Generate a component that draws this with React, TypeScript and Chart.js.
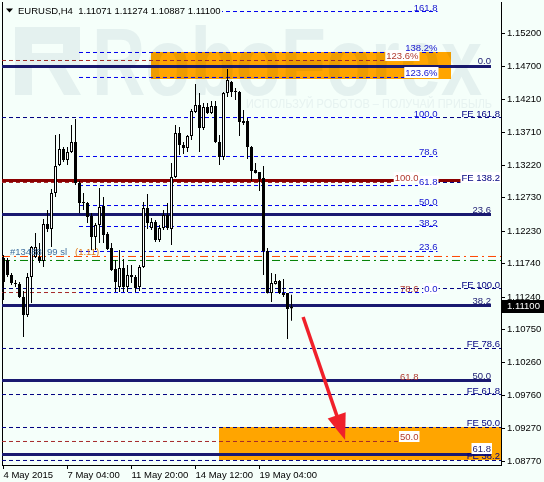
import React, { useEffect, useRef } from "react";
import { Chart, registerables } from "chart.js";

Chart.register(...registerables);

const FONT = '"Liberation Sans", Arial, Helvetica, sans-serif';
const BG = "#F5FFFA";

// ---------- axis data ----------
const chartTitle = "EURUSD,H4  1.11071 1.11274 1.10887 1.11100";
const xTickIndex = [0, 16, 32, 48, 64];
const xTickLabels = ["4 May 2015", "7 May 04:00", "11 May 20:00", "14 May 12:00", "19 May 04:00"];
const yTickValues = [1.152, 1.147, 1.1421, 1.1371, 1.1322, 1.1273, 1.1223, 1.1174, 1.1124, 1.1075, 1.1026, 1.0976, 1.0927, 1.0877];

const X_MIN = -0.375;
const X_MAX = 124.375;
const Y_MIN = 1.0872;
const Y_MAX = 1.1567;

// ---------- candles (H4) ----------
const opens = [
  1.11827, 1.11797, 1.11572, 1.11452, 1.11437, 1.11242, 1.10972, 1.11542, 1.11842, 1.11842,
  1.11782, 1.12338, 1.12263, 1.12803, 1.13223, 1.13464, 1.13298, 1.13419, 1.13569, 1.12953,
  1.12668, 1.12653, 1.12458, 1.12143, 1.12323, 1.12608, 1.12188, 1.11978, 1.11662, 1.11392,
  1.11677, 1.11392, 1.11572, 1.11542, 1.11392, 1.11692, 1.12578, 1.12278, 1.12368, 1.12098,
  1.12278, 1.12473, 1.12263, 1.13043, 1.13704, 1.13524, 1.13479, 1.13659, 1.14019, 1.14124,
  1.13779, 1.14094, 1.14004, 1.14109, 1.13569, 1.13343, 1.14304, 1.14469, 1.14334, 1.14319,
  1.13884, 1.13884, 1.13494, 1.13148, 1.13118, 1.13028, 1.11933, 1.11302, 1.11437, 1.11482,
  1.11302, 1.11302, 1.11071,
];
const highs = [
  1.11872, 1.11827, 1.11602, 1.11497, 1.11467, 1.11332, 1.11602, 1.12008, 1.12203, 1.12053,
  1.12413, 1.12548, 1.12863, 1.13674, 1.13689, 1.13494, 1.13494, 1.13824, 1.13914, 1.12983,
  1.12803, 1.12668, 1.12503, 1.12353, 1.12878, 1.12743, 1.12218, 1.12053, 1.11797, 1.11948,
  1.11812, 1.11722, 1.11722, 1.11572, 1.11722, 1.12668, 1.12788, 1.12428, 1.12398, 1.12323,
  1.12548, 1.12653, 1.13253, 1.13824, 1.13794, 1.13569, 1.13674, 1.14064, 1.14439, 1.14304,
  1.14154, 1.14154, 1.14184, 1.14184, 1.13674, 1.14319, 1.14664, 1.14484, 1.14379, 1.14334,
  1.14049, 1.13929, 1.13509, 1.13253, 1.13118, 1.13208, 1.11978, 1.11602, 1.11587, 1.11497,
  1.11512, 1.11302, 1.11274,
];
const lows = [
  1.11197, 1.11542, 1.11422, 1.11392, 1.11227, 1.10642, 1.10942, 1.11152, 1.11827, 1.11752,
  1.11692, 1.12218, 1.11993, 1.12743, 1.13208, 1.13268, 1.13223, 1.13404, 1.12923, 1.12503,
  1.12548, 1.12353, 1.11948, 1.11948, 1.12053, 1.12053, 1.11948, 1.11632, 1.11317, 1.11317,
  1.11317, 1.11317, 1.11452, 1.11317, 1.11332, 1.11677, 1.12263, 1.12248, 1.12068, 1.12068,
  1.12248, 1.12248, 1.12023, 1.13028, 1.13373, 1.13389, 1.13419, 1.13599, 1.14004, 1.13419,
  1.13749, 1.13989, 1.13989, 1.13554, 1.13223, 1.13298, 1.14244, 1.14244, 1.14199, 1.13659,
  1.13824, 1.13313, 1.12983, 1.13095, 1.12833, 1.11572, 1.11295, 1.11167, 1.1143, 1.11287,
  1.11242, 1.10612, 1.10887,
];
const closes = [
  1.11467, 1.11572, 1.11452, 1.11437, 1.11242, 1.10972, 1.11542, 1.11993, 1.11993, 1.11782,
  1.12338, 1.12263, 1.12803, 1.13208, 1.13464, 1.13298, 1.13419, 1.13569, 1.12953, 1.12653,
  1.12653, 1.12443, 1.12143, 1.12323, 1.12593, 1.12173, 1.11963, 1.11647, 1.11467, 1.11677,
  1.11392, 1.11572, 1.11542, 1.11377, 1.11692, 1.12578, 1.12353, 1.12368, 1.12098, 1.12278,
  1.12473, 1.12278, 1.13043, 1.13704, 1.13524, 1.13479, 1.13659, 1.14034, 1.14124, 1.13779,
  1.14094, 1.14004, 1.14109, 1.13569, 1.13343, 1.14304, 1.14499, 1.14319, 1.14319, 1.13869,
  1.13854, 1.13494, 1.13133, 1.13103, 1.13013, 1.11933, 1.11302, 1.11452, 1.11482, 1.11302,
  1.11272, 1.11062, 1.111,
];

// ---------- analysis objects ----------
const navyFibNames = ["0.0", "23.6", "38.2", "50.0", "61.8"];
const navyFibLevels = [1.14702, 1.1248, 1.11114, 1.09988, 1.08878];
const navyFibSpan = [X_MIN, 121.875];

const blueFibNames = ["161.8", "138.2%", "123.6%", "100.0", "78.6", "61.8", "50.0", "38.2", "23.6", "0.0"];
const blueFibLevels = [1.15527, 1.14912, 1.14537, 1.13936, 1.13351, 1.12915, 1.12615, 1.123, 1.11925, 1.11309];
const blueFibSpan = [18.875, 108.5];

const redFibNames = ["123.6%", "100.0", "78.6", "61.8", "50.0"];
const redFibLevels = [1.14792, 1.12961, 1.11309, 1.09988, 1.09073];
const redFibSpan = [X_MIN, 103.75];

const feNames = ["FE 161.8", "FE 138.2", "FE 100.0", "FE 78.6", "FE 61.8", "FE 50.0", "FE 38.2"];
const feLevels = [1.13936, 1.12961, 1.11369, 1.10469, 1.09778, 1.09283, 1.08788];
const feSpan = [X_MIN, X_MAX];

const resistanceLevel = 1.12991;
const stopLossLevel = 1.1185;
const takeProfitLevel = 1.1179;
const orderText = "#13488  99 sl";
const orderPriceText = "(1.11)";

const upperZone = [1.14919, 1.14514];
const upperZoneSpan = [36.875, 111.875];
const lowerZone = [1.09291, 1.08795];
const lowerZoneSpan = [53.875, X_MAX];

const arrowStart = { x: 74.9, y: 1.10942 };
const arrowEnd = { x: 85.4, y: 1.09096 };

// ---------- helpers ----------
function hLine(price: number, span: number[], color: string, width: number, dash: number[], order: number) {
  return {
    type: "line",
    data: [
      { x: span[0], y: price },
      { x: span[1], y: price },
    ],
    borderColor: color,
    borderWidth: width,
    borderDash: dash,
    borderCapStyle: "butt",
    pointRadius: 0,
    pointHoverRadius: 0,
    fill: false,
    tension: 0,
    order,
  };
}

function zone(levels: number[], span: number[]) {
  return {
    type: "line",
    data: [
      { x: span[0], y: levels[0] },
      { x: span[1], y: levels[0] },
    ],
    borderWidth: 0,
    borderColor: "rgba(0,0,0,0)",
    backgroundColor: "#FFA500",
    pointRadius: 0,
    fill: { value: levels[1] },
    order: 100,
  };
}

function buildDatasets() {
  const ds: any[] = [];
  ds.push(zone(upperZone, upperZoneSpan));
  ds.push(zone(lowerZone, lowerZoneSpan));
  feLevels.forEach((p) => ds.push(hLine(p, feSpan, "#000080", 1, [4, 3], 62)));
  redFibLevels.forEach((p) => ds.push(hLine(p, redFibSpan, "#A52A2A", 1, [4, 3], 61)));
  blueFibLevels.forEach((p) => ds.push(hLine(p, blueFibSpan, "#0000EE", 1, [4, 3], 60)));
  ds.push(hLine(stopLossLevel, [X_MIN, X_MAX], "#FF4500", 1, [8, 4, 2, 4], 55));
  ds.push(hLine(takeProfitLevel, [X_MIN, X_MAX], "#008000", 1, [8, 4, 2, 4], 55));
  ds.push(hLine(resistanceLevel, [X_MIN, X_MAX], "#8B0000", 3, [], 50));
  navyFibLevels.forEach((p) => ds.push(hLine(p, navyFibSpan, "#191970", 3, [], 45)));

  const idx = opens.map((_, i) => i);
  ds.push({
    type: "bar",
    data: idx.map((i) => ({ x: i, y: [lows[i], highs[i]] })),
    backgroundColor: "#000000",
    borderWidth: 0,
    barThickness: 1,
    grouped: false,
    inflateAmount: 0,
    order: 20,
  });
  ds.push({
    type: "bar",
    data: idx.map((i) => ({ x: i, y: [Math.min(opens[i], closes[i]), Math.max(opens[i], closes[i])] })),
    backgroundColor: idx.map((i) => (closes[i] >= opens[i] ? "#FFFFFF" : "#000000")),
    borderColor: "#000000",
    borderWidth: 1,
    borderSkipped: false,
    barThickness: 3,
    grouped: false,
    inflateAmount: 0,
    order: 10,
  });
  return ds;
}

const labelGroups = [
  { names: feNames, levels: feLevels, end: X_MAX, color: "#000080", lw: 1, inset: 1, bg: [false, true, false, false, false, false, false] },
  { names: redFibNames, levels: redFibLevels, end: redFibSpan[1], color: "#B03A2E", lw: 1, inset: 0, bg: [true, true, false, false, true] },
  { names: blueFibNames, levels: blueFibLevels, end: blueFibSpan[1], color: "#1515D0", lw: 1, inset: 0, bg: [false, false, true, false, false, true, false, false, false, true] },
  { names: navyFibNames, levels: navyFibLevels, end: navyFibSpan[1], color: "#191970", lw: 3, inset: 0, bg: [false, false, false, false, true] },
];

function drawWatermark(ctx: CanvasRenderingContext2D) {
  ctx.save();
  ctx.globalCompositeOperation = "multiply";
  ctx.fillStyle = "rgb(238,241,244)";
  // logo block
  ctx.beginPath();
  ctx.rect(15, 27, 17, 68);
  ctx.rect(15, 27, 65, 17);
  ctx.rect(63, 27, 17, 40);
  ctx.rect(32, 53, 48, 14);
  ctx.moveTo(48, 67);
  ctx.lineTo(65, 67);
  ctx.lineTo(81, 95);
  ctx.lineTo(64, 95);
  ctx.closePath();
  ctx.fill();
  // brand text
  ctx.font = `bold 96px ${FONT}`;
  ctx.textBaseline = "alphabetic";
  ctx.textAlign = "left";
  const w = ctx.measureText("RoboForex").width;
  ctx.save();
  ctx.translate(92, 95);
  ctx.scale(390 / w, 1);
  ctx.fillText("RoboForex", 0, 0);
  ctx.restore();
  ctx.fillStyle = "rgb(241,243,246)";
  ctx.font = `12px ${FONT}`;
  const sub = "ИСПОЛЬЗУЙ РОБОТОВ – ПОЛУЧАЙ ПРИБЫЛЬ";
  const sw = ctx.measureText(sub).width;
  ctx.save();
  ctx.translate(246, 108);
  ctx.scale(246 / sw, 1);
  ctx.fillText(sub, 0, 0);
  ctx.restore();
  ctx.restore();
}

const bgPlugin = {
  id: "mt4bg",
  beforeDraw(chart: any) {
    const ctx = chart.ctx;
    ctx.save();
    ctx.fillStyle = BG;
    ctx.fillRect(0, 0, chart.width, chart.height);
    ctx.restore();
  },
};

const overlayPlugin = {
  id: "mt4overlay",
  afterDatasetsDraw(chart: any) {
    const ctx: CanvasRenderingContext2D = chart.ctx;
    const ca = chart.chartArea;
    const xs = chart.scales.x;
    const ys = chart.scales.y;
    const X = (v: number) => xs.getPixelForValue(v);
    const Y = (v: number) => ys.getPixelForValue(v);

    ctx.save();
    ctx.beginPath();
    ctx.rect(ca.left, ca.top, ca.right - ca.left, ca.bottom - ca.top);
    ctx.clip();
    drawWatermark(ctx);

    // level labels
    ctx.font = `9.5px ${FONT}`;
    ctx.textAlign = "right";
    ctx.textBaseline = "alphabetic";
    labelGroups.forEach((g) => {
      const xr = X(g.end) - g.inset;
      g.names.forEach((name, k) => {
        const base = Math.floor(Y(g.levels[k]) - g.lw / 2);
        const w = ctx.measureText(name).width;
        if (g.bg[k]) {
          ctx.fillStyle = "#FFFFFF";
          ctx.fillRect(xr - w - 1, base - 9, w + 2, 11);
        }
        ctx.fillStyle = g.color;
        ctx.fillText(name, xr, base);
      });
    });

    // order labels
    ctx.textAlign = "left";
    ctx.fillStyle = "#3F6E9E";
    ctx.fillText(orderText, 10, Math.floor(Y(stopLossLevel)) - 1);
    ctx.fillStyle = "#E07818";
    ctx.fillText(orderPriceText, 75, Math.floor(Y(stopLossLevel)) - 1);

    // title
    ctx.fillStyle = BG;
    ctx.fillRect(ca.left + 1, 3, 219, 15);
    ctx.fillStyle = "#000000";
    ctx.beginPath();
    ctx.moveTo(6, 8.5);
    ctx.lineTo(13, 8.5);
    ctx.lineTo(9.5, 12.5);
    ctx.closePath();
    ctx.fill();
    ctx.fillText(chartTitle, 18, 14);

    // arrow
    const x1 = X(arrowStart.x), y1 = Y(arrowStart.y);
    const x2 = X(arrowEnd.x), y2 = Y(arrowEnd.y);
    const dx = x2 - x1, dy = y2 - y1;
    const len = Math.hypot(dx, dy);
    const ux = dx / len, uy = dy / len;
    const headLen = 26, headHalf = 9.5;
    const bx = x2 - ux * headLen, by = y2 - uy * headLen;
    ctx.strokeStyle = "#F0202A";
    ctx.fillStyle = "#F0202A";
    ctx.lineWidth = 3.5;
    ctx.lineCap = "butt";
    ctx.beginPath();
    ctx.moveTo(x1, y1);
    ctx.lineTo(bx + ux * 3, by + uy * 3);
    ctx.stroke();
    ctx.beginPath();
    ctx.moveTo(x2, y2);
    ctx.lineTo(bx - uy * headHalf, by + ux * headHalf);
    ctx.lineTo(bx + uy * headHalf, by - ux * headHalf);
    ctx.closePath();
    ctx.fill();
    ctx.restore();

    // current price tag on the price axis
    const last = closes[closes.length - 1];
    const py = Y(last);
    ctx.save();
    ctx.fillStyle = "#000000";
    ctx.fillRect(ca.right + 1, Math.round(py) - 6, chart.width - ca.right - 1, 13);
    ctx.fillStyle = "#FFFFFF";
    ctx.font = `9.5px ${FONT}`;
    ctx.textAlign = "left";
    ctx.textBaseline = "middle";
    ctx.fillText(last.toFixed(5), ca.right + 6, Math.round(py) + 0.5);
    ctx.restore();
  },
};

function noPad(s: any) {
  s.paddingLeft = 0;
  s.paddingRight = 0;
  s.paddingTop = 0;
  s.paddingBottom = 0;
}

export default function App() {
  const ref = useRef<HTMLCanvasElement>(null);

  useEffect(() => {
    document.body.style.margin = "0";
    const canvas = ref.current;
    if (!canvas) return;
    const chart = new Chart(canvas, {
      type: "bar",
      data: { datasets: buildDatasets() as any },
      options: {
        responsive: false,
        animation: false,
        devicePixelRatio: 1,
        events: [],
        layout: { padding: { left: 2, top: 2, right: 0, bottom: 0 } },
        plugins: {
          legend: { display: false },
          tooltip: { enabled: false },
          title: { display: false },
        },
        scales: {
          x: {
            type: "linear",
            min: X_MIN,
            max: X_MAX,
            offset: false,
            position: "bottom",
            grid: { display: true, drawOnChartArea: false, drawTicks: true, tickLength: 4, color: "#000000", offset: false },
            border: { display: true, color: "#000000", width: 1 },
            ticks: {
              autoSkip: false,
              maxRotation: 0,
              minRotation: 0,
              align: "start",
              padding: 1,
              color: "#000000",
              font: { family: FONT, size: 9.5 },
              callback: (v: any) => {
                const k = xTickIndex.indexOf(Number(v));
                return k >= 0 ? xTickLabels[k] : "";
              },
            },
            afterBuildTicks: (s: any) => {
              s.ticks = xTickIndex.map((v) => ({ value: v }));
            },
            afterFit: (s: any) => {
              s.height = 17;
              noPad(s);
            },
          },
          y: {
            type: "linear",
            position: "right",
            min: Y_MIN,
            max: Y_MAX,
            grid: { display: true, drawOnChartArea: false, drawTicks: true, tickLength: 4, color: "#000000" },
            border: { display: true, color: "#000000", width: 1 },
            ticks: {
              padding: 2,
              color: "#000000",
              font: { family: FONT, size: 9.5 },
              callback: (v: any) => Number(v).toFixed(5),
            },
            afterBuildTicks: (s: any) => {
              s.ticks = yTickValues.map((v) => ({ value: v }));
            },
            afterFit: (s: any) => {
              s.width = 43;
              noPad(s);
            },
          },
          yl: {
            type: "linear",
            position: "left",
            display: true,
            grid: { display: false, drawOnChartArea: false, drawTicks: false },
            ticks: { display: false },
            border: { display: true, color: "#000000", width: 1 },
            afterFit: (s: any) => {
              s.width = 0;
              noPad(s);
            },
          },
        },
      } as any,
      plugins: [bgPlugin, overlayPlugin],
    });
    return () => chart.destroy();
  }, []);

  return (
    <div style={{ width: 544, height: 482 }}>
      <canvas ref={ref} width={544} height={482} style={{ display: "block" }} />
    </div>
  );
}
